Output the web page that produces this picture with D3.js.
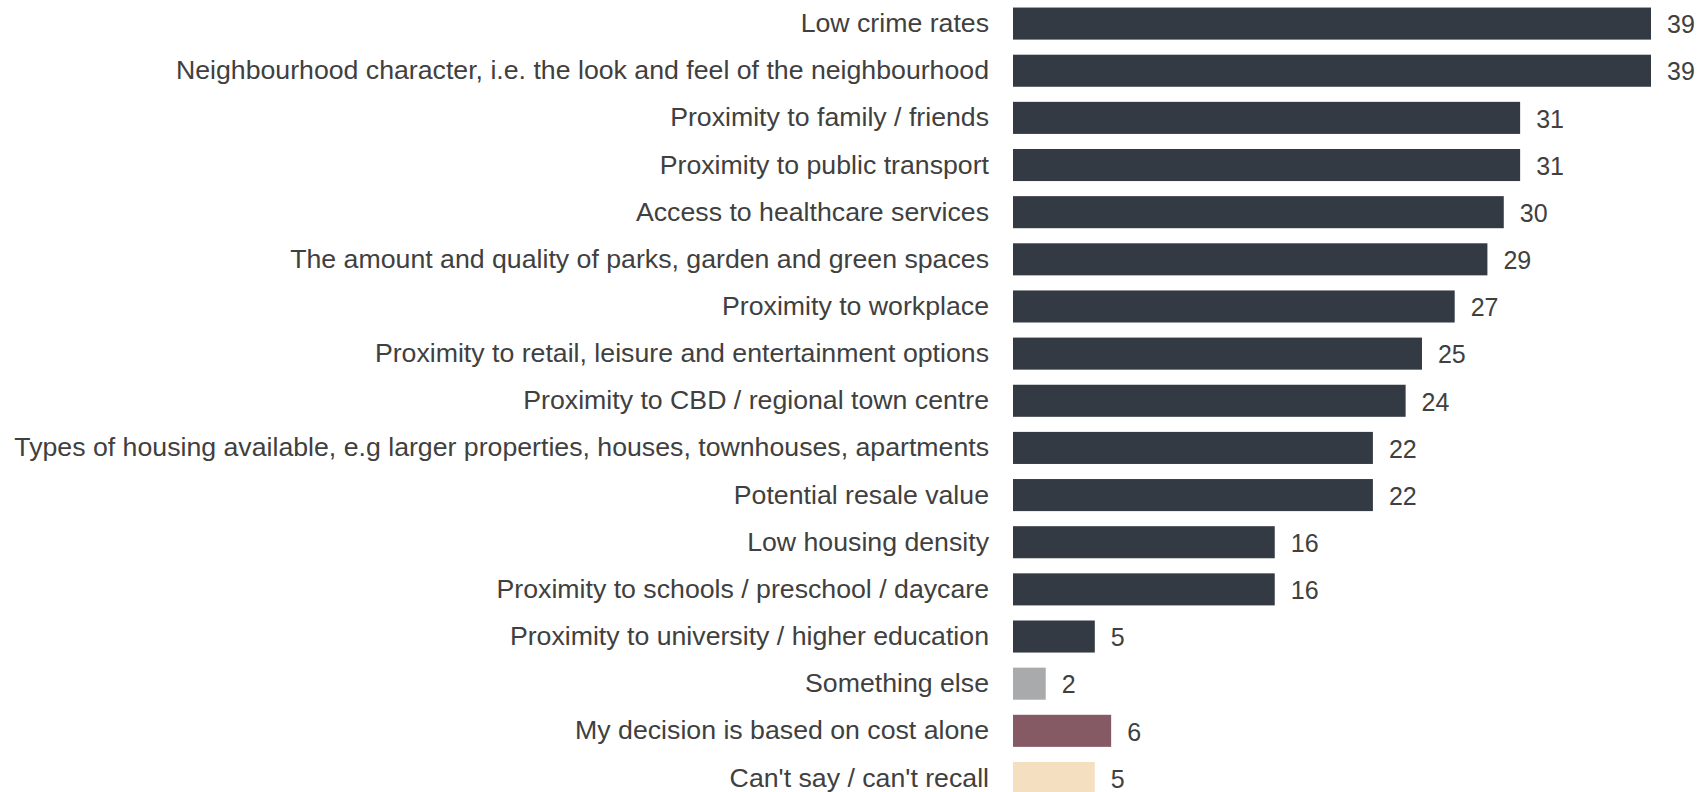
<!DOCTYPE html>
<html>
<head>
<meta charset="utf-8">
<script src="https://cdn.jsdelivr.net/npm/d3@7"></script>
<style>
  html, body { margin: 0; padding: 0; background: #ffffff; overflow: hidden; }
  svg { display: block; }
  text { font-family: "Liberation Sans", Arial, Helvetica, sans-serif; }
</style>
</head>
<body>
<div id="chart"></div>
<script>
// Factors considered when choosing a neighbourhood (%)
const categories = [
  "Low crime rates",
  "Neighbourhood character, i.e. the look and feel of the neighbourhood",
  "Proximity to family / friends",
  "Proximity to public transport",
  "Access to healthcare services",
  "The amount and quality of parks, garden and green spaces",
  "Proximity to workplace",
  "Proximity to retail, leisure and entertainment options",
  "Proximity to CBD / regional town centre",
  "Types of housing available, e.g larger properties, houses, townhouses, apartments",
  "Potential resale value",
  "Low housing density",
  "Proximity to schools / preschool / daycare",
  "Proximity to university / higher education",
  "Something else",
  "My decision is based on cost alone",
  "Can't say / can't recall"
];
const values = [39, 39, 31, 31, 30, 29, 27, 25, 24, 22, 22, 16, 16, 5, 2, 6, 5];
const groups = ["factor", "factor", "factor", "factor", "factor", "factor", "factor",
  "factor", "factor", "factor", "factor", "factor", "factor", "factor",
  "other", "cost", "unsure"];

const width = 1698, height = 792;
const barLeft = 1013, barRight = 1651;
const step = 47.15;

const colour = d3.scaleOrdinal()
  .domain(["factor", "other", "cost", "unsure"])
  .range(["#343a43", "#a9aaac", "#865a64", "#f5dfc1"]);

const rows = categories.map((c, i) => ({ category: c, value: values[i], group: groups[i] }));

const svg = d3.select("#chart").append("svg")
  .attr("width", width)
  .attr("height", height);

const x = d3.scaleLinear()
  .domain([0, d3.max(values)])
  .range([barLeft, barRight]);

const y = d3.scaleBand()
  .domain(categories)
  .range([0, step * categories.length])
  .paddingInner(0.32)
  .paddingOuter(0.16);

// Category labels on the left, right-aligned against the bars
const axis = d3.axisLeft(y).tickSize(0).tickPadding(0);
const axisG = svg.append("g")
  .attr("transform", `translate(${barLeft - 24},0)`)
  .call(axis);
axisG.select(".domain").remove();
axisG.selectAll("text")
  .attr("font-size", 26.7)
  .attr("fill", "#404040")
  .attr("font-family", "Liberation Sans, Arial, sans-serif");

// Bars
svg.append("g").selectAll("rect")
  .data(rows)
  .join("rect")
  .attr("x", x(0))
  .attr("y", d => y(d.category))
  .attr("width", d => x(d.value) - x(0))
  .attr("height", y.bandwidth())
  .attr("fill", d => colour(d.group));

// Value labels
svg.append("g").selectAll("text")
  .data(rows)
  .join("text")
  .attr("x", d => x(d.value) + 16)
  .attr("y", d => y(d.category) + y.bandwidth() / 2 + 1)
  .attr("dy", "0.35em")
  .attr("font-size", 25)
  .attr("fill", "#404040")
  .text(d => d.value);
</script>
</body>
</html>
